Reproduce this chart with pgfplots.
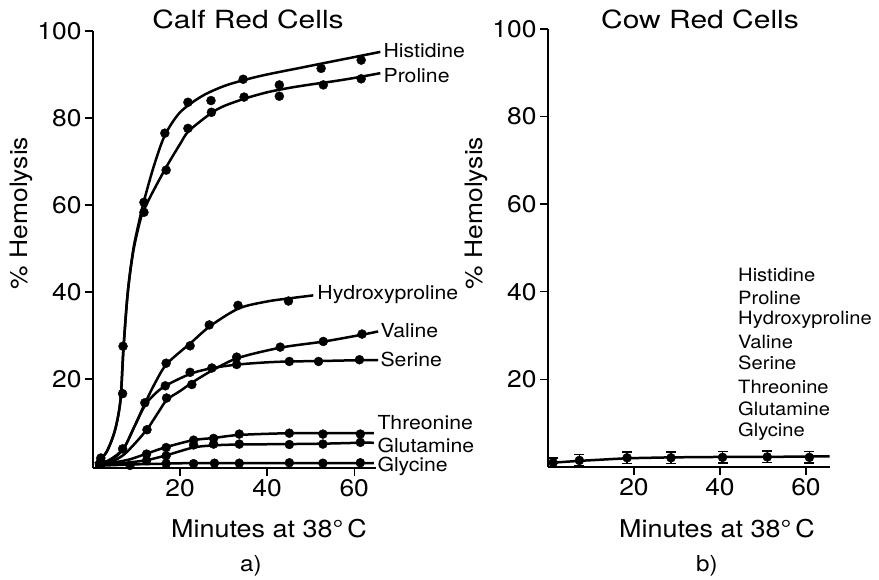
\documentclass[border=0pt]{standalone}
\usepackage{fontspec}
\setmainfont{TeX Gyre Heros}[FakeStretch=1.1]
\newfontfamily\titlefont{TeX Gyre Heros}[FakeStretch=1.2]
\usepackage{pgfplots}
\pgfplotsset{compat=1.18}
\tikzset{
 labL/.style={anchor=west, inner sep=0pt, font=\fontsize{19.3}{19.3}\selectfont},
 labR/.style={anchor=west, inner sep=0pt, font=\fontsize{18.3}{18.3}\selectfont},
}
\begin{document}
\begin{tikzpicture}[x=1pt,y=1pt]
\path[use as bounding box] (0pt,0pt) rectangle (879pt,580pt);
\pgfplotsset{
 panel/.style={scale only axis, axis x line=bottom, axis y line=left,
   axis line style={-, line width=1.6pt}, tick align=outside, major tick length=8pt,
   tick style={line width=1.4pt, black}, xtick={20,40,60}, ytick={20,40,60,80,100},
   enlargelimits=false, clip=false, /pgf/number format/assume math mode=true,
   tick label style={font=\fontsize{24}{24}\selectfont},
   anchor=south west},
 cur/.style={line width=2.5pt, smooth, no markers, black},
 pts/.style={only marks, mark=*, mark size=4.5pt, black},
}
% ---------------- Left panel: Calf ----------------
\begin{axis}[panel, at={(93pt,112pt)}, width=283pt, height=437pt, xmin=0, xmax=65, ymin=-0.5, ymax=100]
% Histidine
\addplot[cur] coordinates {(0.5,0.5)(3,3)(5,8)(6.3,15)(7,27)(8,40)(9.3,50)(11,58)(12,62)(14,69)(16.5,76)(20,81.3)(25,85)(30,87.3)(35,88.8)(40,90)(50,92)(60,94)(66,95.2)};
\addplot[pts] coordinates {(1.8,1.8)(6.9,27.5)(11.7,60.6)(16.5,76.5)(21.8,83.6)(27.1,84)(34.5,88.9)(42.8,87.6)(52.4,91.4)(61.6,93.3)};
% Proline
\addplot[cur] coordinates {(0.5,0.5)(3,3)(5,8)(6.3,15)(7,27)(8,40)(9.3,49.6)(11,57)(12,59.5)(14,63.5)(17,69)(20,74)(22,77)(27,81)(30,82.7)(35,84.5)(40,85.9)(45,86.9)(50,87.7)(55,88.4)(60,89.2)(66,90.3)};
\addplot[pts] coordinates {(1.8,1.2)(6.8,16.6)(11.7,58.3)(16.8,68)(21.8,77.6)(27.2,81.3)(34.7,84.8)(42.8,85)(52.9,87.6)(61.6,89)};
% Hydroxyproline
\addplot[cur] coordinates {(0.5,0)(4,1.5)(7,4)(9.5,9)(12,14.5)(14.5,19.5)(17,23.5)(22.5,28.3)(27,32.2)(33.5,36.2)(40,37.8)(45,38.5)(50.6,39.2)};
\addplot[pts] coordinates {(6.8,3.9)(11.9,14.5)(16.8,23.6)(22.3,27.6)(26.7,32.4)(33.3,36.9)(44.9,37.9)};
% Serine
\addplot[cur] coordinates {(0.5,0)(4,1.2)(7,3.9)(9.5,9)(12,14)(14.5,16.8)(17,18.6)(22.5,21.2)(27.5,22.5)(33.3,23.3)(40,23.8)(45.3,24)(52,24.1)(61.6,24.3)(65.5,24.3)};
\addplot[pts] coordinates {(16.6,18.4)(22.3,21.5)(27.3,22.5)(33,23.3)(45.1,24)(51.8,24)(61.2,24.4)};
% Valine
\addplot[cur] coordinates {(0.5,0)(4,0.8)(7,2.5)(9.5,5)(12.5,8.5)(15,12.3)(17,15.2)(20,17.2)(23,19.3)(27.5,22)(33.3,24.8)(43.2,27.2)(53.1,28.6)(62,30.2)(65.5,30.9)};
\addplot[pts] coordinates {(12.4,8.3)(16.9,15.6)(22.7,18.7)(33,25)(43,27.3)(52.9,28.6)(61.8,30.3)};
% Threonine
\addplot[cur] coordinates {(1,0.3)(5,0.8)(8.5,1.5)(12.3,2.8)(16.8,4.3)(23,5.9)(27.7,6.4)(33.6,7.1)(45,7.5)(53,7.5)(61.4,7.5)(64.5,7.5)};
\addplot[pts] coordinates {(12.3,2.7)(16.8,4.2)(23.1,5.9)(27.7,6.3)(33.6,7.3)(45.1,7.5)(52.8,7.3)(61.4,7.3)};
% Glutamine
\addplot[cur] coordinates {(1,0.2)(5,0.4)(8.5,0.8)(12.3,1.3)(16.8,2.4)(23,4.2)(27.7,4.7)(33.6,4.9)(45,5)(53,5.1)(61.4,5.3)(64.5,5.3)};
\addplot[pts] coordinates {(12.3,1.2)(16.8,2.3)(23.1,4.8)(27.7,5)(33.6,5)(45.1,4.9)(52.8,5)(61.4,5.4)};
% Glycine
\addplot[cur] coordinates {(1,0)(8.5,0.3)(16.8,0.5)(23,0.6)(64.5,0.6)};
\addplot[pts] coordinates {(8.5,0.1)(16.8,0.5)(23.1,0.5)(27.9,0.6)(33.6,0.6)(45.1,0.7)(52.8,0.6)(61.4,0.7)};
\node[labL] at (axis cs:66.7,95.4) {Histidine};
\node[labL] at (axis cs:66.7,89.7) {Proline};
\node[labL] at (axis cs:51.5,39.3) {Hydroxyproline};
\node[labL] at (axis cs:66,31) {Valine};
\node[labL] at (axis cs:66,24.4) {Serine};
\node[labL] at (axis cs:65.3,9.9) {Threonine};
\node[labL] at (axis cs:65.3,4.6) {Glutamine};
\node[labL] at (axis cs:65.3,-0.2) {Glycine};
\end{axis}
% ---------------- Right panel: Cow ----------------
\begin{axis}[panel, at={(548pt,113pt)}, width=281.6pt, height=438pt, xmin=0, xmax=65.5, ymin=0, ymax=100]
\addplot[line width=2.5pt, black, no markers] coordinates {(1.2,1.0)(7.3,1.4)(18.4,2.0)(28.6,2.2)(40.6,2.3)(51,2.3)(60.8,2.4)(65.5,2.4)};
\addplot[pts, error bars/.cd, y dir=both, y explicit,
  error bar style={line width=1.5pt, black},
  error mark options={rotate=90, mark size=5pt, line width=1.5pt, black}]
  coordinates {(1.2,1.0) +- (0,1.0) (7.3,1.5) +- (0,1.3) (18.4,2.1) +- (0,1.3) (28.6,2.1) +- (0,1.3) (40.6,2.2) +- (0,1.3) (51,2.3) +- (0,1.3) (60.8,2.2) +- (0,1.3)};
\node[labR] at (axis cs:44.2,43.8) {Histidine};
\node[labR] at (axis cs:44.2,38.6) {Proline};
\node[labR] at (axis cs:44.2,33.6) {Hydroxyproline};
\node[labR] at (axis cs:44.2,28.5) {Valine};
\node[labR] at (axis cs:44.2,23.7) {Serine};
\node[labR] at (axis cs:44.2,18.3) {Threonine};
\node[labR] at (axis cs:44.2,13.2) {Glutamine};
\node[labR] at (axis cs:44.2,8.0) {Glycine};
\end{axis}
% ---------------- Text around ----------------
\node[font=\titlefont\fontsize{25}{25}\selectfont] at (248pt,561pt) {Calf Red Cells};
\node[font=\titlefont\fontsize{25}{25}\selectfont] at (700pt,561pt) {Cow Red Cells};
\node[font=\fontsize{24.5}{24.5}\selectfont] at (269pt,51pt) {Minutes at 38°\,C};
\node[font=\fontsize{24.5}{24.5}\selectfont] at (717pt,51pt) {Minutes at 38°\,C};
\node[font=\fontsize{24}{24}\selectfont, rotate=90] at (21pt,367pt) {\% Hemolysis};
\node[font=\fontsize{24}{24}\selectfont, rotate=90] at (476pt,367pt) {\% Hemolysis};
\node[font=\fontsize{22}{22}\selectfont] at (251pt,14pt) {a)};
\node[font=\fontsize{22}{22}\selectfont] at (707pt,14pt) {b)};
\end{tikzpicture}
\end{document}
